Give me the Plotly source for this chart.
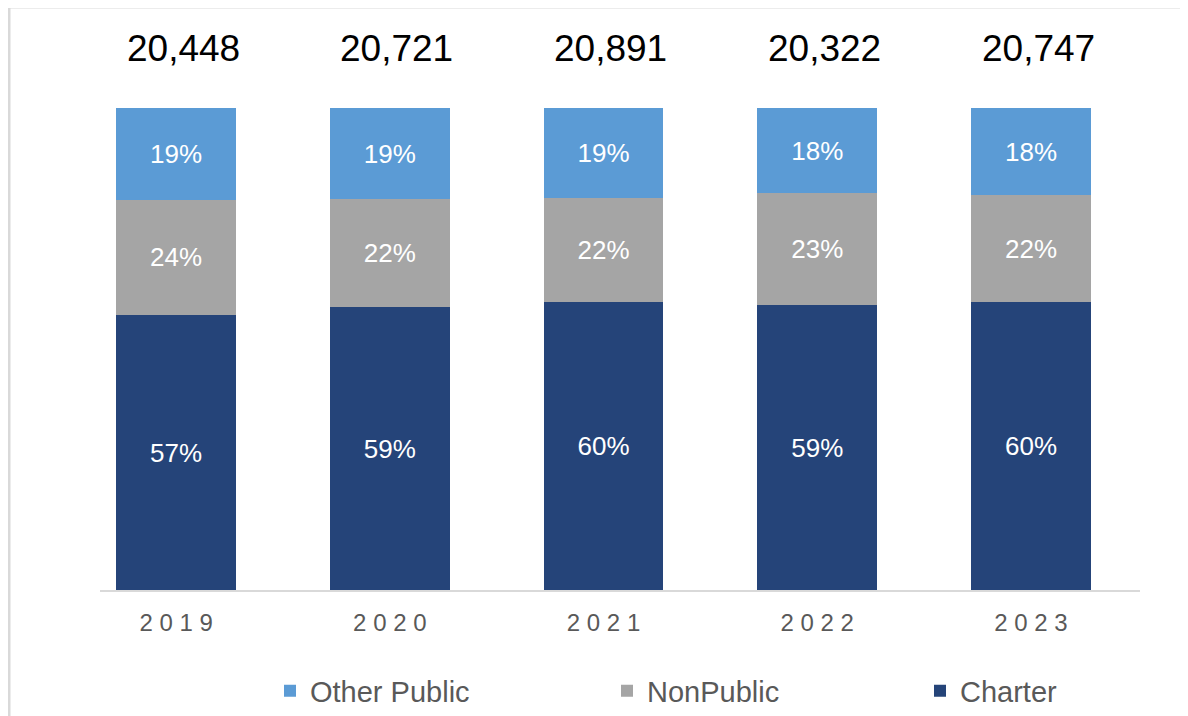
import plotly.graph_objects as go

years = ["2019", "2020", "2021", "2022", "2023"]
totals = [20448, 20721, 20891, 20322, 20747]

# shares in percent
charter = [57.05, 58.7, 59.75, 59.1, 59.75]
nonpublic = [23.9, 22.4, 21.6, 23.2, 22.2]
other_public = [19.05, 18.9, 18.65, 17.7, 18.05]

tick_labels = [" ".join(y) for y in years]

FONT = "Liberation Sans, Arial, sans-serif"

fig = go.Figure()
series = [
    ("Charter", charter, "#254479", "legend3"),
    ("NonPublic", nonpublic, "#A5A5A5", "legend2"),
    ("Other Public", other_public, "#5B9BD5", "legend"),
]
for name, vals, color, leg in series:
    fig.add_trace(go.Bar(
        x=years, y=vals, name=name, marker_color=color,
        marker_line_width=0, legend=leg,
        texttemplate="%{y:.0f}%", textposition="inside",
        insidetextanchor="middle", textangle=0,
        textfont=dict(color="white", size=26, family=FONT),
    ))

# totals above each bar
for i, tot in enumerate(totals):
    fig.add_annotation(
        x=i, y=1, xref="x", yref="paper", yanchor="middle",
        xshift=7, yshift=60,
        text=f"{tot:,}", showarrow=False,
        font=dict(size=37, color="black", family=FONT),
    )

# light frame around the chart
fig.add_shape(type="rect", xref="paper", yref="paper",
              x0=-0.0875, x1=1.2, y0=-0.4, y1=1.0 + 101 / 482,
              line=dict(color="#D9D9D9", width=3), fillcolor="rgba(0,0,0,0)")

leg_common = dict(orientation="h", yref="container", y=1 - 683 / 716,
                  yanchor="middle", xanchor="left", bgcolor="rgba(0,0,0,0)",
                  font=dict(size=29, color="#595959", family=FONT))

fig.update_layout(
    barmode="stack",
    bargap=0.44,
    width=1188, height=716,
    margin=dict(l=92, r=56, t=100, b=134),
    paper_bgcolor="white", plot_bgcolor="white",
    font=dict(family=FONT),
    showlegend=True,
    legend=dict(x=170 / 1040, **leg_common),
    legend2=dict(x=507 / 1040, **leg_common),
    legend3=dict(x=820 / 1040, **leg_common),
    xaxis=dict(
        type="category",
        range=[-0.356, 4.51], tickvals=years, ticktext=tick_labels,
        showline=True, linecolor="#D9D9D9", linewidth=2,
        ticks="", ticklabelstandoff=10,
        tickfont=dict(size=24, color="#595959", family=FONT),
        showgrid=False, zeroline=False,
    ),
    yaxis=dict(range=[0, 100], visible=False),
)

fig.write_html("out.html")
